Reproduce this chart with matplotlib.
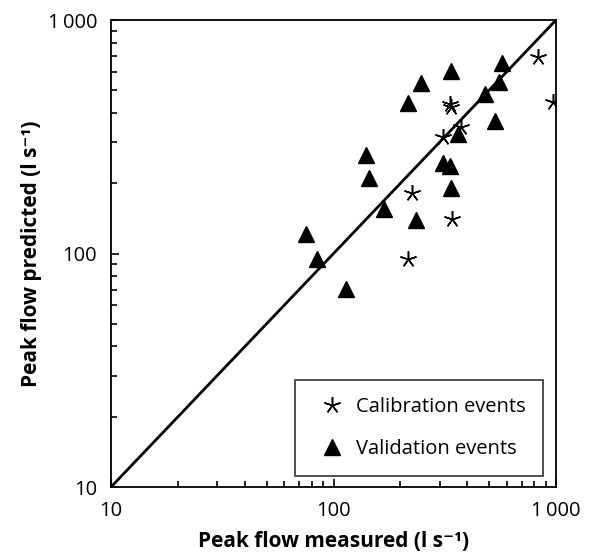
import numpy as np
import matplotlib.pyplot as plt
from matplotlib.ticker import FixedLocator, LogLocator, NullFormatter

plt.rcParams['font.family'] = ['Open Sans', 'DejaVu Sans']

# calibration events (measured, predicted) in l/s
cal_measured = [832, 966, 334, 338, 375, 312, 225, 342, 217]
cal_predicted = [697, 445, 439, 424, 347, 315, 182, 141, 95]

# validation events
val_measured = [570, 556, 480, 532, 337, 247, 217, 361, 312, 334, 336,
                235, 140, 145, 169, 75, 84, 114]
val_predicted = [656, 545, 482, 370, 607, 535, 443, 324, 245, 236, 190,
                 139, 265, 210, 155, 121, 95, 70.5]

ticks = [10, 100, 1000]
tick_labels = ['10', '100', '1\u2009000']

fig = plt.figure(figsize=(5.92, 5.58), dpi=100)
ax = fig.add_axes([0.1875, 0.1272, 0.7517, 0.8369])

ax.plot([10, 1000], [10, 1000], color='black', lw=2, zorder=1)
ax.plot(cal_measured, cal_predicted, linestyle='none', marker=(5, 2, 0),
        markersize=12, mec='black', mew=1.1, color='black',
        label='Calibration events', zorder=3)
ax.plot(val_measured, val_predicted, linestyle='none', marker='^',
        markersize=11.5, color='black', label='Validation events', zorder=2)

ax.set_xscale('log')
ax.set_yscale('log')
ax.set_xlim(10, 1000)
ax.set_ylim(10, 1000)

for axis in (ax.xaxis, ax.yaxis):
    axis.set_major_locator(FixedLocator(ticks))
    axis.set_minor_locator(LogLocator(base=10, subs=np.arange(2, 10)))
    axis.set_minor_formatter(NullFormatter())
ax.set_xticklabels(tick_labels)
ax.set_yticklabels(tick_labels)
ax.tick_params(which='both', direction='in', top=False, right=False,
               labelsize=14.5, width=1.2)
ax.tick_params(which='major', length=6, pad=10)
ax.tick_params(which='minor', length=4)
for s in ax.spines.values():
    s.set_linewidth(1.3)

ax.set_xlabel('Peak flow measured (l s\u207b\u00b9)', fontsize=15,
              fontweight='bold', labelpad=7)
ax.set_ylabel('Peak flow predicted (l s\u207b\u00b9)', fontsize=15,
              fontweight='bold', labelpad=4)

leg = ax.legend(loc='lower right', bbox_to_anchor=(0.985, 0.01),
                fontsize=14.5, frameon=True, fancybox=False,
                edgecolor='black', handletextpad=0.2, labelspacing=1.1,
                borderpad=0.85, borderaxespad=0.3)
leg.get_frame().set_linewidth(1.2)

fig.savefig('out.png', dpi=100)
